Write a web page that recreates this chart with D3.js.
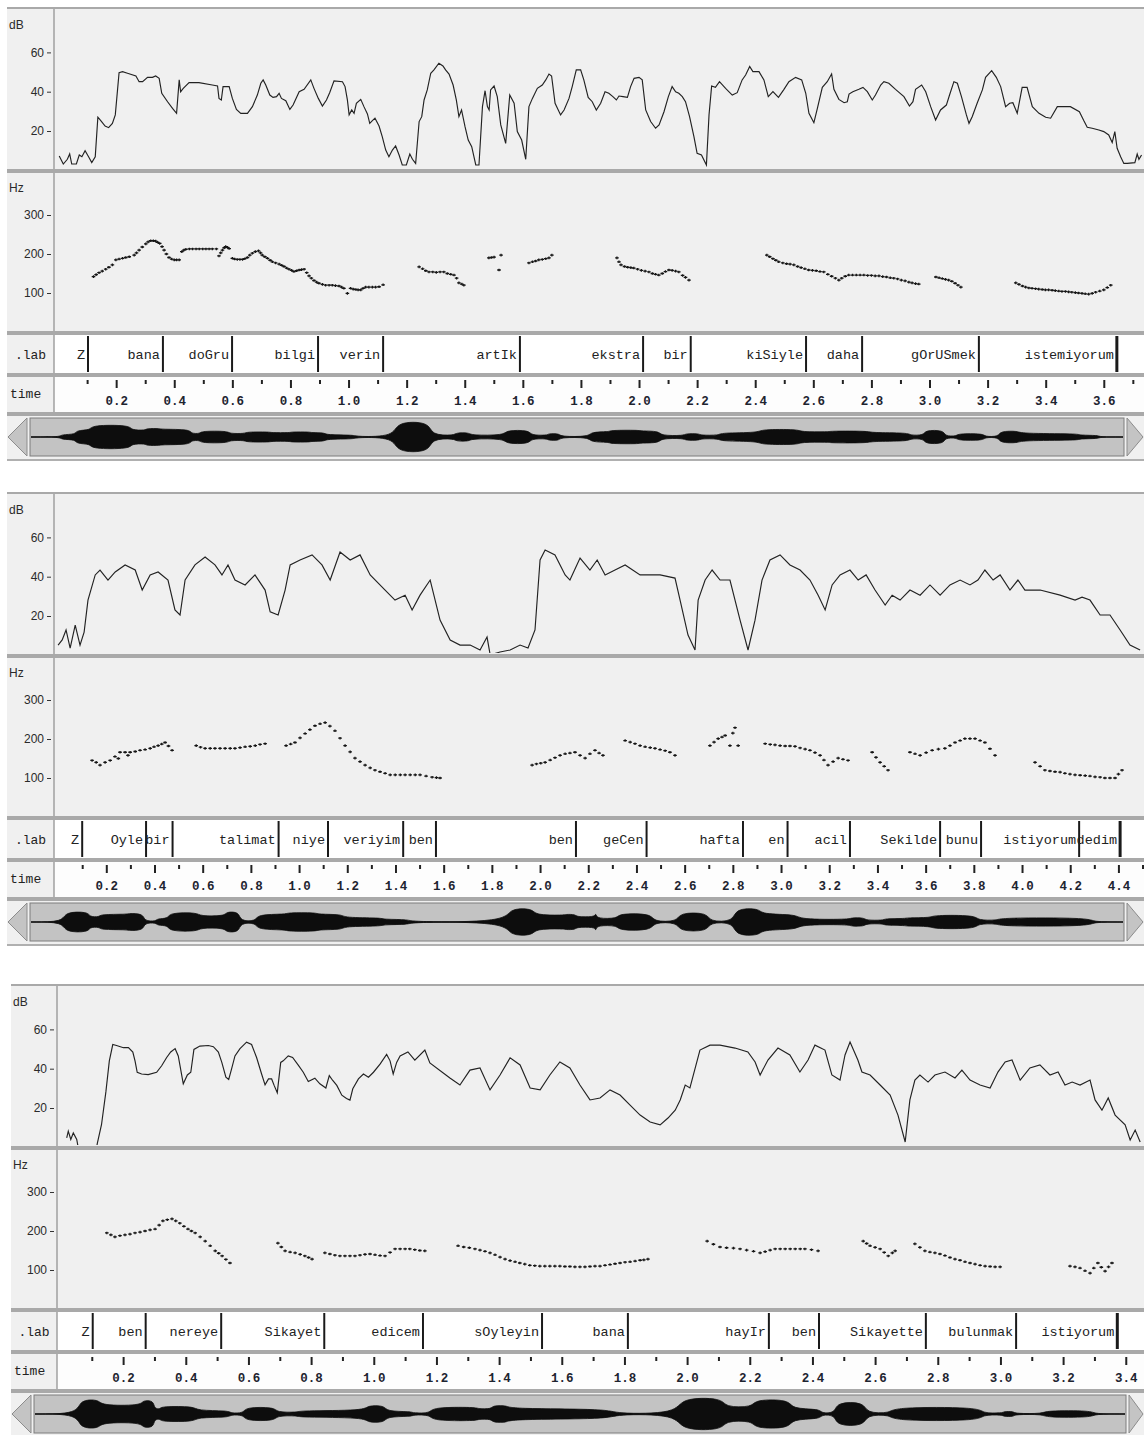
<!DOCTYPE html>
<html><head><meta charset="utf-8">
<script src="https://cdn.jsdelivr.net/npm/d3@7"></script>
<style>body{margin:0;background:#fff}svg{display:block}</style>
</head><body>
<svg id="c" width="1144" height="1435"></svg>
<script>
// ---------------- DATA ----------------
const p1Words = ["Z","bana","doGru","bilgi","verin","artIk","ekstra","bir","kiSiyle","daha","gOrUSmek","istemiyorum"];
const p1Ends  = [0.103,0.361,0.599,0.895,1.119,1.590,2.014,2.178,2.575,2.768,3.170,3.645];
const p2Words = ["Z","Oyle","bir","talimat","niye","veriyim","ben","ben","geCen","hafta","en","acil","Sekilde","bunu","istiyorum","dedim"];
const p2Ends  = [0.100,0.365,0.475,0.915,1.120,1.432,1.568,2.149,2.442,2.842,3.027,3.286,3.660,3.830,4.237,4.407];
const p3Words = ["Z","ben","nereye","Sikayet","edicem","sOyleyin","bana","hayIr","ben","Sikayette","bulunmak","istiyorum"];
const p3Ends  = [0.103,0.272,0.513,0.842,1.157,1.537,1.811,2.261,2.421,2.762,3.050,3.373];

const p1TickLabels = ["0.2","0.4","0.6","0.8","1.0","1.2","1.4","1.6","1.8","2.0","2.2","2.4","2.6","2.8","3.0","3.2","3.4","3.6"];
const p2TickLabels = ["0.2","0.4","0.6","0.8","1.0","1.2","1.4","1.6","1.8","2.0","2.2","2.4","2.6","2.8","3.0","3.2","3.4","3.6","3.8","4.0","4.2","4.4"];
const p3TickLabels = ["0.2","0.4","0.6","0.8","1.0","1.2","1.4","1.6","1.8","2.0","2.2","2.4","2.6","2.8","3.0","3.2","3.4"];
const p1Minor = [0.1,0.3,0.5,0.7,0.9,1.1,1.3,1.5,1.7,1.9,2.1,2.3,2.5,2.7,2.9,3.1,3.3,3.5,3.7];
const p2Minor = [0.1,0.3,0.5,0.7,0.9,1.1,1.3,1.5,1.7,1.9,2.1,2.3,2.5,2.7,2.9,3.1,3.3,3.5,3.7,3.9,4.1,4.3,4.5];
const p3Minor = [0.1,0.3,0.5,0.7,0.9,1.1,1.3,1.5,1.7,1.9,2.1,2.3,2.5,2.7,2.9,3.1,3.3];
const dbTicks = [20,40,60];
const hzTicks = [100,200,300];

// dB contour [time s, dB]
const p1Db = [[0.004,7.3],[0.018,3.2],[0.032,5.6],[0.040,8.3],[0.047,3.2],[0.063,3.2],[0.073,7.8],[0.082,6.9],[0.093,10.0],[0.105,6.9],[0.116,3.9],[0.128,6.9],[0.137,27.0],[0.147,25.3],[0.162,22.5],[0.174,21.7],[0.187,23.9],[0.197,28.2],[0.210,49.7],[0.222,50.2],[0.239,49.4],[0.268,48.0],[0.279,45.1],[0.291,45.1],[0.308,47.3],[0.325,47.3],[0.336,48.0],[0.348,46.8],[0.357,39.2],[0.377,34.9],[0.394,31.5],[0.408,29.0],[0.417,46.0],[0.422,40.0],[0.431,41.7],[0.451,44.6],[0.485,44.6],[0.531,43.4],[0.549,42.9],[0.554,36.6],[0.562,35.8],[0.568,42.6],[0.589,42.6],[0.600,36.6],[0.614,31.0],[0.629,29.0],[0.652,29.0],[0.669,32.4],[0.686,38.3],[0.698,44.3],[0.706,46.0],[0.715,43.4],[0.729,38.3],[0.740,37.1],[0.752,37.5],[0.761,39.2],[0.769,36.6],[0.784,35.4],[0.798,31.0],[0.809,33.2],[0.830,40.0],[0.847,41.2],[0.870,46.0],[0.881,41.7],[0.896,36.6],[0.910,32.7],[0.924,35.8],[0.935,39.5],[0.950,45.5],[0.979,45.1],[0.988,42.6],[0.996,35.8],[1.002,28.2],[1.011,30.7],[1.019,29.0],[1.027,34.1],[1.042,36.1],[1.053,32.4],[1.065,28.7],[1.073,23.9],[1.082,25.3],[1.091,26.5],[1.105,22.5],[1.116,17.1],[1.128,10.3],[1.139,6.9],[1.151,10.3],[1.162,12.4],[1.174,7.8],[1.185,2.7],[1.199,2.7],[1.211,8.3],[1.220,5.6],[1.231,3.5],[1.243,24.8],[1.252,27.3],[1.260,35.8],[1.271,40.9],[1.283,49.4],[1.294,51.1],[1.311,54.5],[1.325,53.1],[1.334,51.1],[1.346,49.0],[1.360,43.4],[1.371,35.8],[1.380,27.3],[1.389,30.7],[1.401,22.2],[1.412,15.4],[1.424,12.0],[1.438,2.7],[1.449,2.7],[1.461,32.4],[1.470,40.5],[1.478,32.4],[1.484,30.7],[1.489,40.9],[1.501,42.9],[1.512,37.5],[1.524,23.1],[1.541,13.7],[1.555,38.3],[1.570,34.1],[1.581,19.7],[1.596,15.4],[1.610,5.6],[1.621,32.4],[1.633,36.6],[1.650,41.7],[1.667,43.4],[1.679,46.0],[1.690,49.0],[1.699,48.0],[1.711,34.1],[1.730,28.2],[1.742,30.7],[1.759,36.6],[1.770,42.6],[1.784,51.1],[1.799,51.1],[1.810,46.0],[1.825,37.1],[1.839,34.9],[1.853,30.7],[1.868,34.1],[1.883,40.0],[1.896,39.2],[1.910,37.5],[1.922,35.8],[1.931,37.8],[1.945,37.5],[1.960,37.1],[1.971,42.6],[1.983,46.8],[2.000,47.3],[2.011,46.0],[2.023,30.7],[2.040,24.8],[2.057,21.4],[2.069,23.1],[2.086,29.8],[2.101,37.5],[2.114,42.6],[2.126,40.0],[2.137,39.2],[2.149,37.5],[2.160,34.9],[2.174,27.3],[2.189,17.1],[2.200,8.6],[2.215,7.8],[2.232,2.7],[2.241,28.2],[2.250,42.9],[2.263,42.2],[2.277,45.1],[2.298,41.7],[2.321,38.3],[2.338,39.5],[2.355,46.0],[2.367,48.5],[2.381,52.8],[2.392,50.2],[2.413,50.2],[2.430,46.0],[2.445,37.5],[2.461,40.0],[2.480,37.1],[2.499,41.2],[2.516,45.1],[2.539,47.3],[2.560,46.0],[2.574,39.2],[2.585,29.0],[2.602,24.2],[2.614,31.5],[2.631,42.2],[2.648,45.1],[2.663,49.0],[2.671,41.2],[2.688,36.1],[2.706,34.4],[2.717,34.9],[2.723,38.8],[2.736,40.0],[2.757,41.2],[2.771,42.2],[2.786,40.0],[2.803,35.8],[2.814,38.3],[2.832,43.4],[2.843,45.1],[2.860,44.3],[2.883,41.2],[2.912,37.5],[2.931,32.7],[2.943,34.9],[2.952,41.2],[2.973,43.4],[2.987,40.0],[3.004,32.4],[3.021,25.6],[3.038,30.7],[3.058,33.2],[3.069,38.3],[3.084,45.1],[3.096,44.3],[3.110,37.5],[3.127,28.2],[3.136,23.9],[3.147,27.3],[3.164,34.1],[3.182,40.9],[3.193,47.3],[3.214,50.7],[3.230,47.3],[3.245,42.6],[3.262,32.4],[3.276,34.1],[3.287,34.4],[3.302,29.0],[3.319,42.2],[3.336,42.2],[3.354,32.4],[3.377,29.0],[3.400,27.0],[3.417,26.5],[3.440,32.4],[3.485,32.4],[3.516,29.8],[3.531,25.3],[3.543,21.9],[3.560,21.4],[3.583,20.5],[3.600,19.7],[3.617,18.0],[3.629,14.1],[3.638,19.7],[3.646,11.2],[3.658,6.9],[3.669,3.5],[3.681,3.5],[3.707,3.9],[3.715,8.3],[3.721,5.6],[3.730,7.8]];

const p2Db = [[0.000,5.2],[0.017,7.8],[0.033,12.9],[0.050,3.7],[0.071,15.4],[0.091,5.2],[0.108,11.8],[0.124,28.1],[0.154,40.9],[0.174,43.4],[0.207,38.3],[0.237,42.4],[0.278,46.0],[0.320,43.4],[0.349,33.2],[0.382,40.9],[0.415,42.4],[0.456,38.3],[0.485,23.1],[0.506,20.5],[0.527,38.3],[0.568,46.0],[0.610,50.0],[0.651,46.0],[0.680,40.9],[0.705,46.0],[0.734,38.3],[0.776,35.8],[0.817,40.9],[0.859,33.2],[0.880,22.1],[0.913,20.5],[0.942,33.2],[0.963,46.0],[1.004,48.5],[1.054,51.1],[1.095,46.0],[1.129,38.3],[1.170,52.6],[1.212,48.5],[1.253,51.1],[1.295,40.9],[1.357,33.2],[1.398,28.1],[1.440,30.6],[1.469,23.1],[1.502,30.6],[1.544,38.3],[1.585,17.9],[1.627,7.8],[1.668,5.2],[1.710,5.2],[1.751,2.7],[1.780,9.3],[1.793,0.2],[1.834,1.7],[1.876,2.7],[1.917,5.2],[1.950,3.7],[1.979,12.9],[2.000,48.5],[2.021,53.6],[2.062,51.1],[2.104,40.9],[2.124,38.3],[2.166,49.5],[2.207,43.4],[2.237,48.5],[2.270,40.9],[2.311,43.4],[2.353,46.0],[2.415,40.9],[2.498,40.9],[2.560,39.3],[2.581,28.1],[2.614,10.3],[2.643,2.7],[2.656,28.1],[2.685,38.3],[2.714,43.4],[2.747,38.3],[2.788,38.3],[2.830,17.9],[2.863,2.7],[2.892,17.9],[2.921,38.3],[2.954,48.5],[2.996,51.1],[3.037,46.0],[3.079,43.4],[3.120,38.3],[3.154,30.6],[3.183,23.1],[3.212,35.8],[3.245,40.9],[3.286,43.4],[3.320,38.3],[3.353,40.9],[3.390,33.2],[3.432,25.6],[3.461,30.6],[3.494,28.1],[3.535,33.2],[3.577,30.6],[3.618,35.8],[3.660,30.6],[3.701,35.8],[3.743,38.3],[3.784,35.8],[3.817,38.3],[3.846,43.4],[3.880,38.3],[3.909,40.9],[3.950,33.2],[3.983,38.3],[4.012,33.2],[4.075,33.2],[4.158,30.6],[4.220,28.1],[4.249,29.6],[4.282,28.1],[4.324,20.5],[4.365,20.5],[4.407,12.9],[4.448,5.2],[4.490,2.7]];

const p3Db = [[0.020,4.8],[0.025,8.2],[0.033,4.0],[0.041,7.3],[0.052,4.0],[0.060,-3],[0.112,-3],[0.118,2.3],[0.131,11.5],[0.145,28.2],[0.156,44.0],[0.167,52.3],[0.179,51.8],[0.201,50.7],[0.217,50.7],[0.231,48.5],[0.238,44.0],[0.245,38.2],[0.259,37.3],[0.280,37.0],[0.307,38.2],[0.323,41.5],[0.339,45.7],[0.352,48.5],[0.366,50.2],[0.376,46.5],[0.392,32.3],[0.405,36.8],[0.416,38.2],[0.426,49.8],[0.445,51.5],[0.472,51.8],[0.488,51.2],[0.504,48.5],[0.515,43.2],[0.528,35.7],[0.537,34.5],[0.546,39.8],[0.557,46.5],[0.573,50.2],[0.594,53.5],[0.610,52.3],[0.626,45.7],[0.642,37.3],[0.653,31.8],[0.664,34.8],[0.674,34.8],[0.682,31.5],[0.692,27.8],[0.703,43.2],[0.711,44.0],[0.727,46.5],[0.741,45.7],[0.759,41.8],[0.775,38.2],[0.791,33.5],[0.812,35.2],[0.828,32.3],[0.847,30.2],[0.858,36.5],[0.869,34.0],[0.882,31.5],[0.898,26.5],[0.913,24.8],[0.924,24.0],[0.933,29.8],[0.951,34.8],[0.967,37.3],[0.983,35.7],[0.999,38.2],[1.020,42.3],[1.041,47.3],[1.052,44.0],[1.062,37.3],[1.073,43.2],[1.084,46.5],[1.109,48.5],[1.131,44.4],[1.163,49.5],[1.179,42.9],[1.243,35.3],[1.275,31.7],[1.307,39.3],[1.339,40.4],[1.371,29.2],[1.403,36.8],[1.435,45.5],[1.467,41.9],[1.499,30.2],[1.531,29.2],[1.562,36.8],[1.594,43.4],[1.626,40.4],[1.658,31.7],[1.690,24.1],[1.722,25.1],[1.754,29.2],[1.786,26.6],[1.818,21.5],[1.850,16.4],[1.882,12.9],[1.914,11.4],[1.939,14.9],[1.962,18.9],[1.978,24.1],[1.994,31.7],[2.009,30.2],[2.041,49.5],[2.073,52.0],[2.105,52.0],[2.153,50.5],[2.194,48.5],[2.217,43.4],[2.233,36.8],[2.258,44.4],[2.290,50.5],[2.328,47.0],[2.360,38.3],[2.386,44.4],[2.408,52.0],[2.440,49.5],[2.462,36.8],[2.488,34.2],[2.504,47.0],[2.520,53.6],[2.545,44.4],[2.558,38.3],[2.584,36.8],[2.616,31.7],[2.648,26.6],[2.673,16.4],[2.696,2.7],[2.711,24.1],[2.727,34.2],[2.743,36.8],[2.769,33.2],[2.791,36.8],[2.823,38.3],[2.855,35.3],[2.877,39.3],[2.903,34.2],[2.935,31.7],[2.967,30.2],[2.992,38.3],[3.015,43.4],[3.037,44.4],[3.063,34.2],[3.094,40.4],[3.126,41.9],[3.158,36.8],[3.184,38.3],[3.206,31.7],[3.229,33.2],[3.254,31.7],[3.286,34.2],[3.302,24.1],[3.324,18.9],[3.344,25.1],[3.366,16.4],[3.398,11.4],[3.414,3.7],[3.430,8.8],[3.446,2.7]];

// pitch points [time s, Hz]
const p1Hz = [[0.122,142],[0.131,147],[0.141,152],[0.152,156],[0.164,161],[0.175,166],[0.187,172],[0.199,185],[0.210,187],[0.222,189],[0.233,191],[0.245,193],[0.262,197],[0.270,203],[0.279,210],[0.290,218],[0.302,226],[0.310,231],[0.319,234],[0.328,234],[0.336,233],[0.343,230],[0.350,227],[0.358,219],[0.365,210],[0.373,200],[0.382,191],[0.391,187],[0.400,185],[0.408,185],[0.417,185],[0.426,206],[0.433,210],[0.440,212],[0.452,213],[0.463,213],[0.475,213],[0.486,213],[0.498,213],[0.509,213],[0.520,213],[0.531,213],[0.545,213],[0.554,195],[0.560,203],[0.566,210],[0.572,216],[0.577,219],[0.583,217],[0.589,214],[0.600,189],[0.608,187],[0.617,186],[0.626,186],[0.635,186],[0.643,188],[0.652,191],[0.660,197],[0.669,202],[0.679,206],[0.690,208],[0.697,203],[0.703,197],[0.712,193],[0.721,189],[0.730,184],[0.738,180],[0.749,177],[0.761,174],[0.770,171],[0.778,168],[0.787,164],[0.795,161],[0.804,158],[0.812,155],[0.821,157],[0.830,159],[0.838,160],[0.847,161],[0.856,152],[0.864,144],[0.872,138],[0.881,132],[0.890,128],[0.898,125],[0.910,122],[0.921,120],[0.933,120],[0.944,120],[0.955,119],[0.967,118],[0.976,115],[0.984,112],[0.996,99],[1.007,112],[1.016,110],[1.025,109],[1.033,108],[1.042,108],[1.050,112],[1.059,115],[1.070,115],[1.082,115],[1.093,115],[1.105,116],[1.119,121],
[1.243,167],[1.255,162],[1.266,157],[1.277,154],[1.290,154],[1.302,153],[1.315,154],[1.328,154],[1.340,150],[1.352,148],[1.363,146],[1.372,138],[1.380,126],[1.390,123],[1.397,120],
[1.483,190],[1.492,191],[1.501,192],[1.518,159],[1.525,197],
[1.621,177],[1.633,180],[1.644,182],[1.655,185],[1.667,186],[1.679,188],[1.690,190],[1.700,197],
[1.924,190],[1.931,180],[1.938,172],[1.950,168],[1.961,166],[1.972,165],[1.982,164],[1.995,161],[2.008,158],[2.021,156],[2.034,154],[2.046,150],[2.057,148],[2.068,146],[2.080,150],[2.091,155],[2.103,159],[2.114,158],[2.126,156],[2.137,154],[2.150,145],[2.160,140],[2.172,133],
[2.440,197],[2.450,193],[2.461,188],[2.471,184],[2.481,180],[2.495,177],[2.508,175],[2.520,174],[2.533,172],[2.546,168],[2.558,165],[2.571,162],[2.584,159],[2.597,158],[2.610,157],[2.623,155],[2.636,154],[2.650,148],[2.663,143],[2.676,138],[2.688,133],[2.698,138],[2.710,143],[2.722,146],[2.735,146],[2.748,146],[2.761,146],[2.774,146],[2.787,145],[2.800,145],[2.813,144],[2.826,144],[2.839,142],[2.852,141],[2.865,139],[2.877,138],[2.890,136],[2.903,133],[2.916,131],[2.929,128],[2.940,126],[2.952,124],[2.963,123],
[3.022,141],[3.033,139],[3.044,137],[3.055,135],[3.066,133],[3.077,130],[3.088,125],[3.098,120],[3.108,115],
[3.297,126],[3.308,122],[3.320,118],[3.331,115],[3.342,113],[3.353,112],[3.365,111],[3.376,110],[3.388,109],[3.399,108],[3.410,108],[3.422,107],[3.433,106],[3.445,105],[3.456,104],[3.468,104],[3.479,103],[3.490,102],[3.502,101],[3.513,100],[3.525,99],[3.536,98],[3.548,97],[3.560,99],[3.572,102],[3.586,105],[3.600,108],[3.612,114],[3.624,120]];

const p2Hz = [[0.141,145],[0.158,140],[0.174,133],[0.195,140],[0.216,145],[0.236,155],[0.257,166],[0.278,166],[0.299,166],[0.320,168],[0.340,171],[0.361,173],[0.382,176],[0.398,180],[0.415,183],[0.430,187],[0.444,191],[0.458,182],[0.473,171],[0.250,150],[0.290,158],
[0.573,183],[0.591,179],[0.610,176],[0.631,176],[0.651,176],[0.672,176],[0.693,176],[0.714,176],[0.734,176],[0.755,178],[0.776,180],[0.797,181],[0.818,183],[0.838,186],[0.859,188],
[0.946,183],[0.965,187],[0.983,191],[1.004,203],[1.025,214],[1.045,224],[1.066,234],[1.087,239],[1.108,242],[1.128,233],[1.149,221],[1.170,202],[1.191,183],[1.212,167],[1.232,151],[1.253,142],[1.274,133],[1.295,126],[1.315,120],[1.336,116],[1.357,112],[1.378,108],[1.399,108],[1.420,108],[1.440,108],[1.461,108],[1.482,108],[1.502,108],[1.527,105],[1.552,102],[1.570,101],[1.585,100],
[1.967,133],[1.985,136],[2.003,138],[2.021,140],[2.042,146],[2.062,152],[2.083,158],[2.104,162],[2.124,164],[2.145,166],[2.166,158],[2.187,151],[2.207,162],[2.228,171],[2.245,164],[2.261,158],
[2.353,196],[2.374,192],[2.394,188],[2.415,183],[2.436,180],[2.457,178],[2.477,176],[2.498,173],[2.519,170],[2.539,166],[2.560,158],
[2.705,183],[2.722,192],[2.739,201],[2.755,205],[2.768,209],[2.788,183],[2.800,215],[2.809,229],[2.822,183],
[2.934,188],[2.955,186],[2.975,185],[2.996,183],[3.017,182],[3.037,182],[3.058,181],[3.079,177],[3.100,174],[3.120,171],[3.141,165],[3.162,158],[3.178,146],[3.195,133],[3.216,142],[3.237,151],[3.257,148],[3.278,145],
[3.378,166],[3.394,153],[3.411,140],[3.428,130],[3.444,120],
[3.535,166],[3.556,162],[3.577,158],[3.602,165],[3.627,171],[3.653,174],[3.680,176],[3.701,183],[3.722,191],[3.743,196],[3.763,201],[3.784,201],[3.805,201],[3.826,196],[3.846,191],[3.867,175],[3.888,158],
[4.054,140],[4.075,130],[4.095,120],[4.116,118],[4.137,116],[4.158,115],[4.178,112],[4.199,110],[4.220,108],[4.241,107],[4.262,106],[4.282,105],[4.303,103],[4.324,102],[4.344,100],[4.365,100],[4.386,100],[4.400,110],[4.415,120]];

const p3Hz = [[0.148,195],[0.161,190],[0.174,185],[0.190,188],[0.206,190],[0.222,192],[0.238,195],[0.254,197],[0.270,200],[0.286,203],[0.302,205],[0.315,215],[0.327,226],[0.341,229],[0.356,231],[0.368,226],[0.381,220],[0.394,212],[0.407,205],[0.418,200],[0.430,195],[0.446,185],[0.462,174],[0.478,162],[0.494,149],[0.505,143],[0.516,136],[0.528,127],[0.541,118],
[0.694,169],[0.705,159],[0.717,149],[0.733,146],[0.749,144],[0.765,140],[0.780,136],[0.792,132],[0.803,128],
[0.844,144],[0.860,141],[0.876,138],[0.892,136],[0.908,136],[0.924,136],[0.940,136],[0.956,138],[0.972,140],[0.988,141],[1.004,139],[1.020,137],[1.036,136],[1.052,145],[1.068,154],[1.084,154],[1.100,154],[1.115,154],[1.131,152],[1.147,150],[1.163,149],
[1.269,162],[1.287,159],[1.305,157],[1.323,154],[1.339,151],[1.355,148],[1.371,144],[1.387,139],[1.403,133],[1.419,128],[1.435,124],[1.451,121],[1.466,118],[1.482,115],[1.498,112],[1.514,111],[1.530,110],[1.546,110],[1.562,110],[1.578,110],[1.594,110],[1.610,109],[1.626,109],[1.642,108],[1.658,108],[1.674,108],[1.690,109],[1.706,110],[1.722,110],[1.738,112],[1.754,114],[1.770,116],[1.786,118],[1.802,120],[1.818,121],[1.834,123],[1.850,125],[1.862,126],[1.875,128],
[2.064,174],[2.084,166],[2.105,159],[2.126,157],[2.148,156],[2.169,154],[2.190,151],[2.212,148],[2.233,144],[2.249,147],[2.265,151],[2.281,154],[2.297,154],[2.313,154],[2.329,154],[2.345,154],[2.361,154],[2.376,154],[2.397,152],[2.418,149],
[2.562,174],[2.573,168],[2.584,162],[2.600,158],[2.616,154],[2.629,145],[2.642,136],[2.655,144],[2.664,149],
[2.727,167],[2.743,158],[2.759,149],[2.775,146],[2.791,144],[2.807,141],[2.823,137],[2.839,132],[2.855,128],[2.871,125],[2.887,121],[2.903,118],[2.919,115],[2.935,112],[2.951,110],[2.967,109],[2.983,108],[2.999,108],
[3.222,110],[3.238,108],[3.254,105],[3.270,98],[3.286,92],[3.298,105],[3.311,118],[3.322,107],[3.334,97],[3.345,108],[3.356,118]];

// waveform envelope (segment starts): [time s, relative amplitude]
const p1Wave = [[0,0],[0.102,0.15],[0.154,0.4],[0.205,0.7],[0.341,0.4],[0.393,0.5],[0.444,0.45],[0.546,0.2],[0.580,0.35],[0.676,0.2],[0.734,0.3],[0.819,0.25],[0.888,0.3],[0.956,0.25],[1.007,0.12],[1.110,0.02],[1.246,0.9],[1.366,0.1],[1.451,0.25],[1.502,0.1],[1.622,0.4],[1.707,0.1],[1.768,0.2],[1.809,0.02],[1.912,0.3],[1.980,0.4],[2.083,0.35],[2.151,0.08],[2.236,0.2],[2.287,0.1],[2.356,0.25],[2.492,0.45],[2.629,0.3],[2.731,0.35],[2.868,0.25],[3.004,0.1],[3.056,0.4],[3.124,0.05],[3.168,0.2],[3.260,0.02],[3.312,0.35],[3.380,0.2],[3.585,0.1],[3.653,0],[3.735,0]];
const p2Wave = [[0,0],[0.136,0.6],[0.239,0.3],[0.284,0.45],[0.395,0.5],[0.465,0.05],[0.518,0.2],[0.568,0.55],[0.691,0.35],[0.802,0.6],[0.860,0.05],[0.930,0.45],[1.053,0.55],[1.180,0.45],[1.287,0.25],[1.448,0.15],[1.563,0],[1.966,0.8],[2.073,0.4],[2.200,0.45],[2.246,0.3],[2.324,0.45],[2.332,0.2],[2.420,0.5],[2.562,0.02],[2.669,0.55],[2.793,0.02],[2.900,0.8],[3.007,0.45],[3.163,0.15],[3.377,0.25],[3.438,0.1],[3.517,0.2],[3.607,0.25],[3.714,0.4],[3.899,0.1],[3.990,0.25],[4.372,0],[4.502,0]];
const p3Wave = [[0,0],[0.139,0.85],[0.206,0.5],[0.339,0.8],[0.377,0.3],[0.399,0.45],[0.509,0.2],[0.617,0.05],[0.664,0.4],[0.763,0.1],[0.835,0.2],[1.050,0.5],[1.111,0.15],[1.196,0.05],[1.256,0.4],[1.402,0.3],[1.449,0.5],[1.500,0.3],[1.829,0.02],[2.041,0.95],[2.183,0.4],[2.278,0.85],[2.395,0.3],[2.490,0.05],[2.538,0.7],[2.632,0.05],[2.715,0.4],[2.999,0.05],[3.069,0.15],[3.104,0.02],[3.199,0.2],[3.354,0],[3.455,0]];

// ---------------- DRAW ----------------
const MONO = "'Liberation Mono','Courier New',monospace";
const SANS = "'Liberation Sans',Arial,sans-serif";
const svg = d3.select("#c");

const panels = [
  {top:8,   left:7,  axis:54, domain:[-0.014,3.735], barL:30, barR:1124, words:p1Words, ends:p1Ends, db:p1Db, hz:p1Hz, wave:p1Wave, labels:p1TickLabels, minor:p1Minor},
  {top:493, left:7,  axis:54, domain:[-0.017,4.502], barL:30, barR:1124, words:p2Words, ends:p2Ends, db:p2Db, hz:p2Hz, wave:p2Wave, labels:p2TickLabels, minor:p2Minor},
  {top:985, left:11, axis:57, domain:[-0.011,3.455], barL:34, barR:1126, words:p3Words, ends:p3Ends, db:p3Db, hz:p3Hz, wave:p3Wave, labels:p3TickLabels, minor:p3Minor}
];

panels.forEach((P,pi)=>{
  const T=P.top, L=P.left, A=P.axis, R=1144;
  const g = svg.append("g");
  const x = d3.scaleLinear().domain(P.domain).range([A,1143]);
  const rDb=[T+1,T+161], rHz=[T+165,T+323], rLab=[T+327,T+365], rTime=[T+369,T+404], rWave=[T+408,T+451];

  g.append("rect").attr("x",L).attr("y",T-1).attr("width",R-L).attr("height",453).attr("fill","#a9a9a9");
  const band=(r,fill,x0)=>g.append("rect").attr("x",x0).attr("y",r[0]).attr("width",R-x0).attr("height",r[1]-r[0]).attr("fill",fill);
  band(rDb,"#f0f0f0",L); band(rHz,"#f0f0f0",L);
  band(rLab,"#f0f0f0",L); band(rLab,"#ffffff",A);
  band(rTime,"#f0f0f0",L); band(rTime,"#fdfdfd",A);
  band(rWave,"#f0f0f0",L);
  g.append("rect").attr("x",L).attr("y",T+451).attr("width",R-L).attr("height",2).attr("fill","#b0b0b0");
  [rDb,rHz,rLab,rTime].forEach(r=>g.append("line").attr("x1",A).attr("x2",A).attr("y1",r[0]).attr("y2",r[1]).attr("stroke","#a0a0a0").attr("stroke-width",1.5));

  // ---- dB ----
  const yDb = d3.scaleLinear().domain([0,60]).range([T+162.3,T+44.4]);
  const cid="clipdb"+pi, cid2="cliphz"+pi;
  const defs=svg.append("defs");
  defs.append("clipPath").attr("id",cid).append("rect").attr("x",A+1).attr("y",rDb[0]).attr("width",1143-A).attr("height",rDb[1]-rDb[0]-1);
  defs.append("clipPath").attr("id",cid2).append("rect").attr("x",A+1).attr("y",rHz[0]).attr("width",1143-A).attr("height",rHz[1]-rHz[0]);
  g.append("path").datum(P.db).attr("clip-path",`url(#${cid})`)
    .attr("d",d3.line().x(d=>x(d[0])).y(d=>yDb(d[1])))
    .attr("fill","none").attr("stroke","#222").attr("stroke-width",1.15);
  const axDb = g.append("g").attr("transform",`translate(${A-3},0)`)
    .call(d3.axisLeft(yDb).tickValues(dbTicks).tickSize(4).tickPadding(3).tickFormat(d3.format("d")));
  axDb.select(".domain").remove();
  axDb.selectAll("text").attr("font-family",SANS).attr("font-size",12).attr("fill","#2a2a2a");
  axDb.selectAll("line").attr("stroke","#333");
  g.append("text").attr("x",L+2).attr("y",T+21).text("dB").attr("font-family",SANS).attr("font-size",12).attr("fill","#2a2a2a");

  // ---- Hz ----
  const yHz = d3.scaleLinear().domain([0,300]).range([T+324,T+207]);
  const axHz = g.append("g").attr("transform",`translate(${A-3},0)`)
    .call(d3.axisLeft(yHz).tickValues(hzTicks).tickSize(4).tickPadding(3).tickFormat(d3.format("d")));
  axHz.select(".domain").remove();
  axHz.selectAll("text").attr("font-family",SANS).attr("font-size",12).attr("fill","#2a2a2a");
  axHz.selectAll("line").attr("stroke","#333");
  g.append("text").attr("x",L+2).attr("y",T+184).text("Hz").attr("font-family",SANS).attr("font-size",12).attr("fill","#2a2a2a");
  g.append("g").attr("clip-path",`url(#${cid2})`).selectAll("path.p").data(P.hz).join("path")
    .attr("transform",d=>`translate(${x(d[0])},${yHz(d[1])})`)
    .attr("d","M-1.8,0H1.8M0,-1.3V1.3").attr("stroke","#151515").attr("stroke-width",1.3).attr("fill","none");

  // ---- .lab tier ----
  g.append("text").attr("x",(L+A)/2).attr("y",T+351).attr("text-anchor","middle").text(".lab")
    .attr("font-family",MONO).attr("font-size",13).attr("fill","#222");
  P.ends.forEach((e,i)=>{
    const xe = x(e);
    const last = i===P.ends.length-1;
    g.append("line").attr("x1",xe).attr("x2",xe).attr("y1",rLab[0]+1).attr("y2",rLab[1]-1)
      .attr("stroke","#1a1a1a").attr("stroke-width",last?3:2);
    g.append("text").attr("x",xe-3).attr("y",T+351).attr("text-anchor","end").text(P.words[i])
      .attr("font-family",MONO).attr("font-size",13.5).attr("fill","#222");
  });

  // ---- time tier ----
  g.append("text").attr("x",L+3).attr("y",T+390).text("time")
    .attr("font-family",MONO).attr("font-size",13).attr("fill","#222");
  const majorVals = P.labels.map(Number);
  const axT = g.append("g").attr("transform",`translate(0,${rTime[0]+3})`)
    .call(d3.axisBottom(x).tickValues(majorVals).tickSize(8).tickPadding(8).tickFormat((d,i)=>P.labels[i]));
  axT.select(".domain").remove();
  axT.selectAll("line").attr("stroke","#222").attr("stroke-width",2);
  axT.selectAll("text").attr("font-family",MONO).attr("font-size",12.5).attr("font-weight","bold").attr("fill","#1e2430");
  const axM = g.append("g").attr("transform",`translate(0,${rTime[0]+3})`)
    .call(d3.axisBottom(x).tickValues(P.minor).tickSize(4).tickFormat(""));
  axM.select(".domain").remove();
  axM.selectAll("line").attr("stroke","#222").attr("stroke-width",2);

  // ---- waveform scrollbar ----
  const wTop=rWave[0]+2, wBot=rWave[1]-3, wMid=(wTop+wBot)/2;
  g.append("path").attr("d",`M${L+1},${wMid}L${P.barL-3},${wTop}L${P.barL-3},${wBot}Z`)
    .attr("fill","#c4c4c4").attr("stroke","#8c8c8c");
  g.append("path").attr("d",`M${R-1},${wMid}L${P.barR+3},${wTop}L${P.barR+3},${wBot}Z`)
    .attr("fill","#c4c4c4").attr("stroke","#8c8c8c");
  g.append("rect").attr("x",P.barL).attr("y",wTop).attr("width",P.barR-P.barL).attr("height",wBot-wTop)
    .attr("fill","#c3c3c3").attr("stroke","#7d7d7d");
  const xw = d3.scaleLinear().domain([0,P.domain[1]]).range([P.barL+1,P.barR-1]);
  g.append("line").attr("x1",P.barL+1).attr("x2",P.barR-1).attr("y1",wMid).attr("y2",wMid).attr("stroke","#111").attr("stroke-width",1.2);
  // corner points of the step envelope, smoothed so bursts get rounded edges
  const corners = [];
  P.wave.forEach((d,i)=>{
    const nxt = P.wave[i+1];
    corners.push([d[0],d[1]]);
    if(nxt) corners.push([nxt[0],d[1]]);
  });
  g.append("path").datum(corners)
    .attr("d",d3.area().curve(d3.curveBasis).x(d=>xw(d[0])).y0(d=>wMid-d[1]*17).y1(d=>wMid+d[1]*17))
    .attr("fill","#0d0d0d").attr("stroke","#0d0d0d").attr("stroke-width",0.8);
});
</script>
</body></html>
